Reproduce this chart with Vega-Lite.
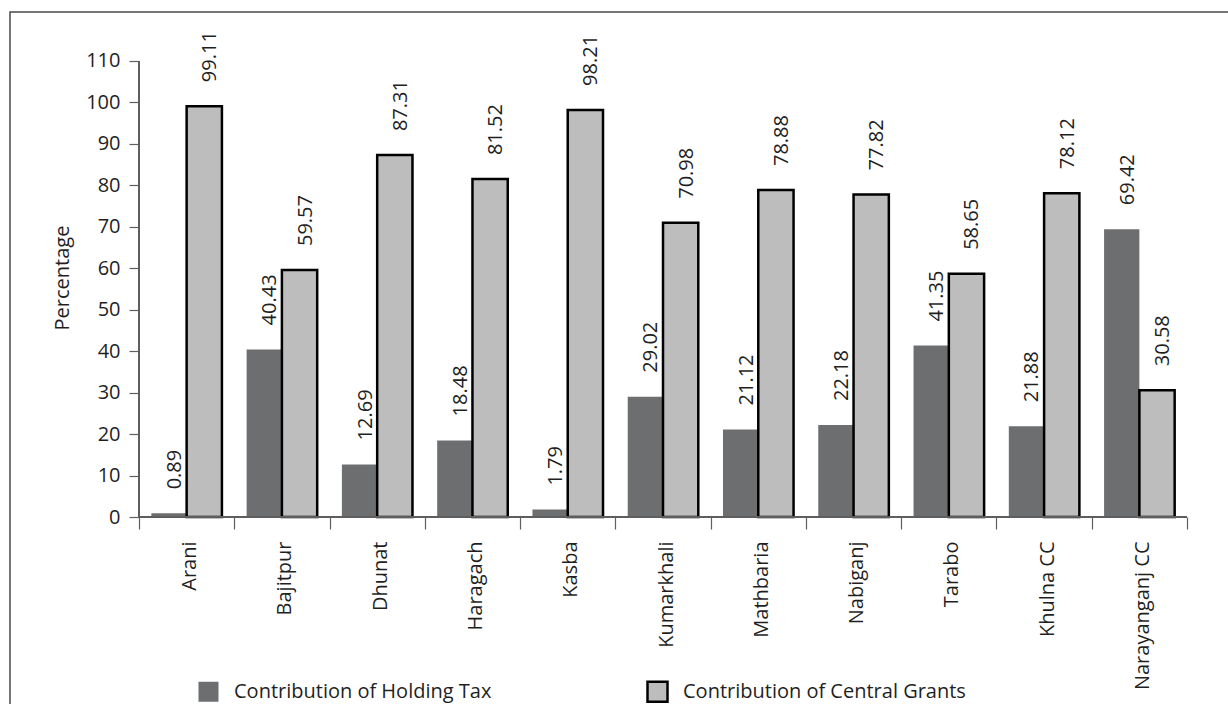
{
  "$schema": "https://vega.github.io/schema/vega-lite/v6.json",
  "width": 1224,
  "height": 702,
  "autosize": {"type": "none"},
  "padding": {"left": 10, "top": 12, "right": -6, "bottom": -10},
  "background": "white",
  "config": {
    "view": {"stroke": "#4a4a4a", "strokeWidth": 1.5},
    "font": "Open Sans",
    "axis": {
      "labelFont": "Open Sans",
      "labelFontSize": 20,
      "labelColor": "#1f1f1f",
      "tickColor": "#5f5f5f",
      "tickWidth": 1.2,
      "titleFont": "Open Sans",
      "titleColor": "#1f1f1f",
      "grid": false
    },
    "legend": {
      "orient": "none",
      "legendX": 187,
      "legendY": 668,
      "direction": "horizontal",
      "title": null,
      "symbolType": "square",
      "symbolSize": 400,
      "symbolStrokeWidth": 2.5,
      "labelFont": "Open Sans",
      "labelFontSize": 20,
      "labelColor": "#1f1f1f",
      "labelOffset": 14,
      "labelLimit": 400,
      "columnPadding": 150
    }
  },
  "data": {
    "values": [
      {"municipality": "Arani", "source": "Contribution of Holding Tax", "pct": 0.89},
      {"municipality": "Arani", "source": "Contribution of Central Grants", "pct": 99.11},
      {"municipality": "Bajitpur", "source": "Contribution of Holding Tax", "pct": 40.43},
      {"municipality": "Bajitpur", "source": "Contribution of Central Grants", "pct": 59.57},
      {"municipality": "Dhunat", "source": "Contribution of Holding Tax", "pct": 12.69},
      {"municipality": "Dhunat", "source": "Contribution of Central Grants", "pct": 87.31},
      {"municipality": "Haragach", "source": "Contribution of Holding Tax", "pct": 18.48},
      {"municipality": "Haragach", "source": "Contribution of Central Grants", "pct": 81.52},
      {"municipality": "Kasba", "source": "Contribution of Holding Tax", "pct": 1.79},
      {"municipality": "Kasba", "source": "Contribution of Central Grants", "pct": 98.21},
      {"municipality": "Kumarkhali", "source": "Contribution of Holding Tax", "pct": 29.02},
      {"municipality": "Kumarkhali", "source": "Contribution of Central Grants", "pct": 70.98},
      {"municipality": "Mathbaria", "source": "Contribution of Holding Tax", "pct": 21.12},
      {"municipality": "Mathbaria", "source": "Contribution of Central Grants", "pct": 78.88},
      {"municipality": "Nabiganj", "source": "Contribution of Holding Tax", "pct": 22.18},
      {"municipality": "Nabiganj", "source": "Contribution of Central Grants", "pct": 77.82},
      {"municipality": "Tarabo", "source": "Contribution of Holding Tax", "pct": 41.35},
      {"municipality": "Tarabo", "source": "Contribution of Central Grants", "pct": 58.65},
      {"municipality": "Khulna CC", "source": "Contribution of Holding Tax", "pct": 21.88},
      {"municipality": "Khulna CC", "source": "Contribution of Central Grants", "pct": 78.12},
      {"municipality": "Narayanganj CC", "source": "Contribution of Holding Tax", "pct": 69.42},
      {"municipality": "Narayanganj CC", "source": "Contribution of Central Grants", "pct": 30.58}
    ]
  },
  "layer": [
    {
      "mark": {"type": "bar", "strokeWidth": 2.5},
      "encoding": {
        "x": {
          "field": "municipality",
          "type": "nominal",
          "sort": null,
          "scale": {
            "domain": ["Arani", "Bajitpur", "Dhunat", "Haragach", "Kasba", "Kumarkhali", "Mathbaria", "Nabiganj", "Tarabo", "Khulna CC", "Narayanganj CC"],
            "paddingInner": 0,
            "paddingOuter": 0.9236,
            "align": 0.733
          },
          "axis": {
            "title": null,
            "orient": "bottom",
            "offset": -197,
            "domain": false,
            "tickBand": "extent",
            "tickSize": 12,
            "labelAngle": -90,
            "labelPadding": 12,
            "labelOffset": 3
          }
        },
        "xOffset": {
          "field": "source",
          "type": "nominal",
          "scale": {
            "domain": ["Contribution of Holding Tax", "Contribution of Central Grants"],
            "paddingInner": 0,
            "paddingOuter": 0.35
          }
        },
        "y": {
          "field": "pct",
          "type": "quantitative",
          "scale": {"domain": [-47.52, 121.82], "nice": false, "zero": false},
          "axis": {
            "title": "Percentage",
            "offset": -129,
            "values": [0, 10, 20, 30, 40, 50, 60, 70, 80, 90, 100, 110],
            "domain": false,
            "tickSize": 10,
            "labelPadding": 9,
            "titleAngle": -90,
            "titleX": -71,
            "titleY": 265.5,
            "titleAlign": "center",
            "titleBaseline": "alphabetic",
            "titleFontWeight": "normal",
            "titleFontSize": 20
          }
        },
        "y2": {"datum": 0},
        "fill": {
          "field": "source",
          "type": "nominal",
          "scale": {
            "domain": ["Contribution of Holding Tax", "Contribution of Central Grants"],
            "range": ["#6d6e70", "#bdbdbd"]
          }
        },
        "stroke": {
          "field": "source",
          "type": "nominal",
          "scale": {
            "domain": ["Contribution of Holding Tax", "Contribution of Central Grants"],
            "range": ["rgba(0,0,0,0)", "#000000"]
          }
        }
      }
    },
    {
      "mark": {"type": "rule", "color": "#5f5f5f", "strokeWidth": 1.2},
      "encoding": {
        "x": {"datum": "Arani", "type": "nominal", "bandPosition": 0},
        "y": {"datum": 0, "type": "quantitative"},
        "y2": {"datum": 110}
      }
    },
    {
      "mark": {"type": "rule", "color": "#5f5f5f", "strokeWidth": 1.2},
      "encoding": {
        "x": {"datum": "Arani", "type": "nominal", "bandPosition": 0},
        "x2": {"datum": "Narayanganj CC", "bandPosition": 1},
        "y": {"datum": 0, "type": "quantitative"}
      }
    },
    {
      "mark": {
        "type": "text",
        "angle": 270,
        "align": "left",
        "baseline": "middle",
        "dx": 24,
        "dy": 6,
        "fontSize": 20,
        "font": "Open Sans",
        "color": "#1f1f1f"
      },
      "encoding": {
        "x": {"field": "municipality", "type": "nominal", "sort": null},
        "xOffset": {"field": "source", "type": "nominal"},
        "y": {"field": "pct", "type": "quantitative"},
        "text": {"field": "pct", "type": "quantitative", "format": ".2f"}
      }
    }
  ]
}
